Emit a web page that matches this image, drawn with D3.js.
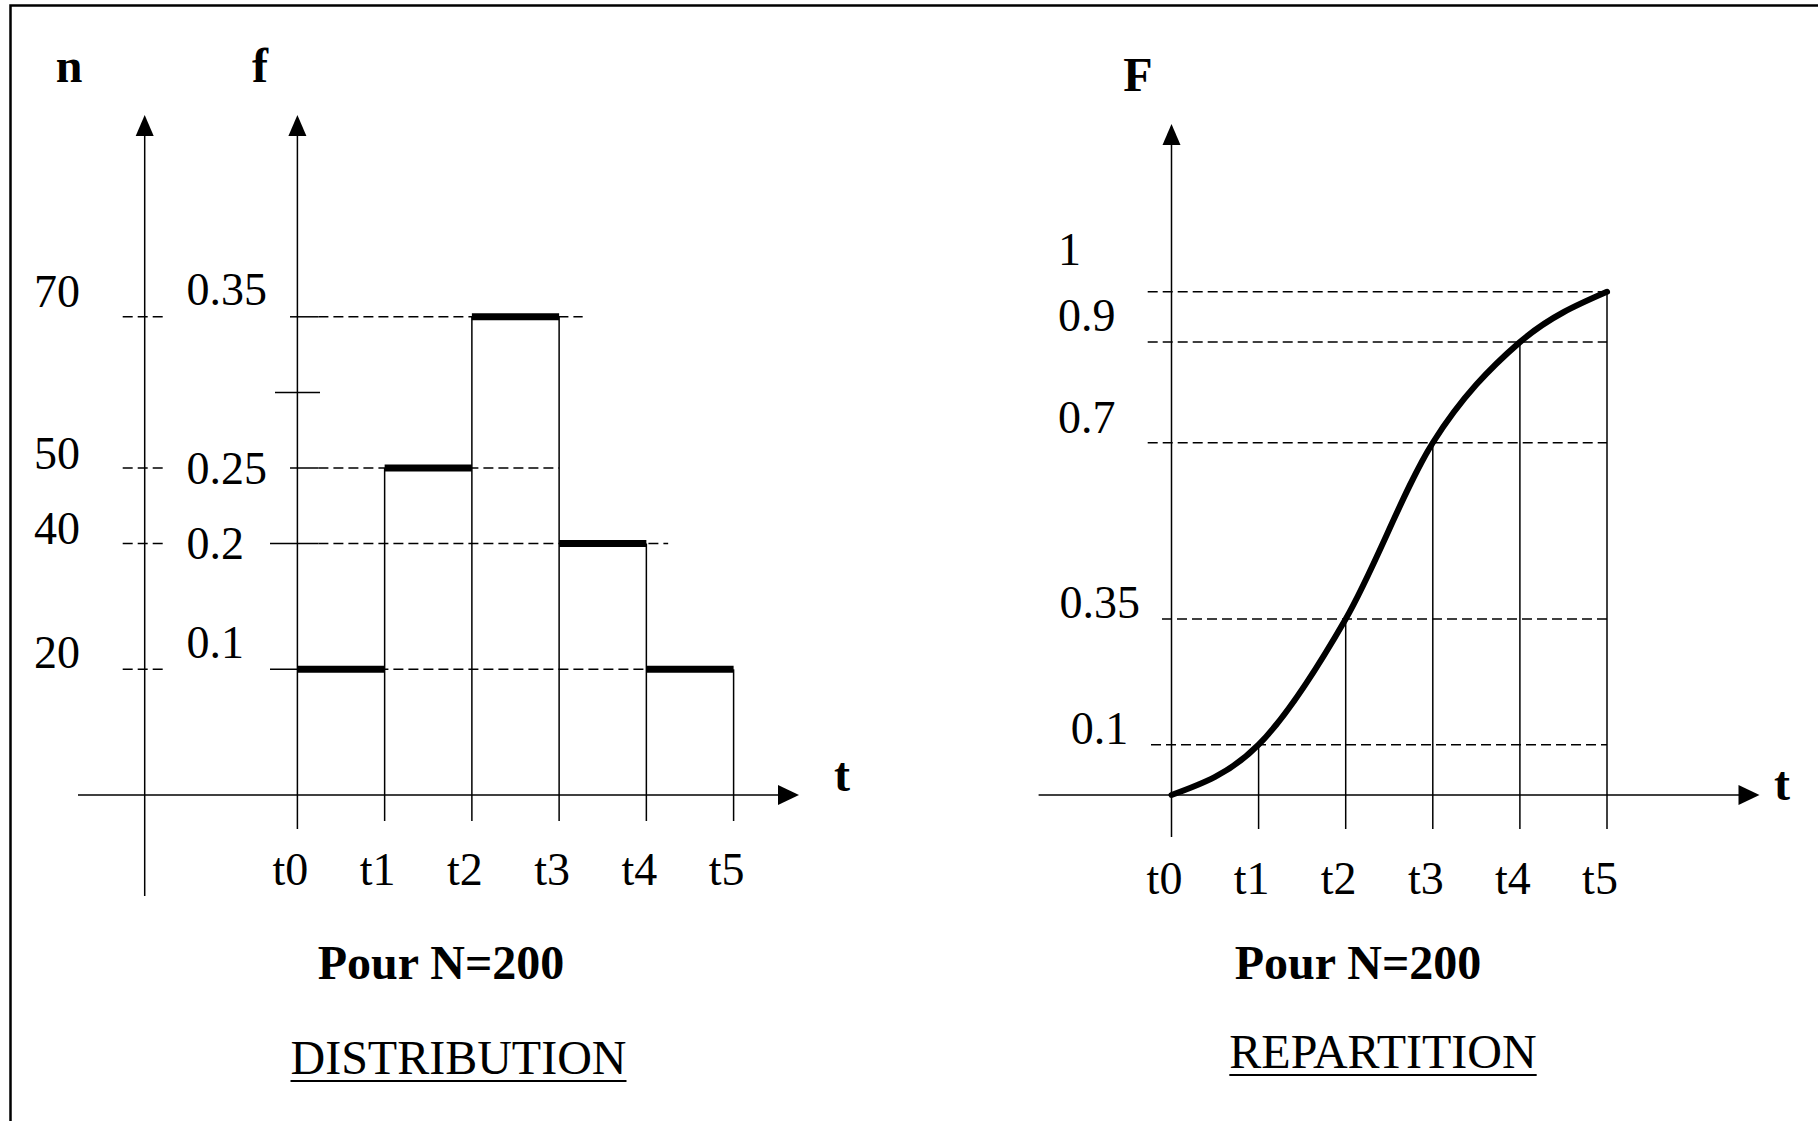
<!DOCTYPE html>
<meta charset="utf-8">

<!-- Load d3.js -->
<script src="https://d3js.org/d3.v7.min.js"></script>

<style>
  body { margin: 0; background: #fff; }
  text { font-family: "Liberation Serif", "Times New Roman", serif; fill: #000; }
</style>

<div id="my_dataviz"></div>

<script>

// ---- data ----
// class bounds on the time axis
let tLabels = ["t0", "t1", "t2", "t3", "t4", "t5"];
// distribution for N = 200 : counts n and frequencies f per class
let N = 200;
let nCounts = [20, 50, 70, 40, 20];
let fValues = [0.1, 0.25, 0.35, 0.2, 0.1];
// labelled levels on the n and f axes (+ one unlabelled tick on f)
let nTicks = [70, 50, 40, 20];
let fTicks = [0.35, 0.25, 0.2, 0.1];
let fExtraTick = 0.3;
// repartition : cumulative F at t0..t5, and its labelled levels
let FValues = [0, 0.1, 0.35, 0.7, 0.9, 1];
let FTicks = [1, 0.9, 0.7, 0.35, 0.1];

// ---- layout ----
let width = 1818, height = 1121;
let xAxisY = 795;
let dash = "10,5";

let svg = d3.select("#my_dataviz")
  .append("svg")
    .attr("width", width)
    .attr("height", height);

svg.append("rect")
    .attr("width", width).attr("height", height)
    .attr("fill", "#fff");

// frame (only top and left show in the picture)
svg.append("rect")
    .attr("x", 10.5).attr("y", 5.5)
    .attr("width", width + 50).attr("height", height + 50)
    .attr("fill", "none").attr("stroke", "#000").attr("stroke-width", 2.5);

function line(g, x1, y1, x2, y2, w, dashed) {
  return g.append("line")
    .attr("x1", x1).attr("y1", y1).attr("x2", x2).attr("y2", y2)
    .attr("stroke", "#000").attr("stroke-width", w || 1.5)
    .attr("stroke-dasharray", dashed ? dash : null);
}

function arrowUp(g, x, yBottom, yTip) {
  line(g, x, yBottom, x, yTip + 15);
  g.append("path")
    .attr("d", "M" + x + "," + yTip + "L" + (x - 9) + "," + (yTip + 21) + "L" + (x + 9) + "," + (yTip + 21) + "Z")
    .attr("fill", "#000");
}

function arrowRight(g, x0, y, xTip) {
  line(g, x0, y, xTip - 15, y);
  g.append("path")
    .attr("d", "M" + xTip + "," + y + "L" + (xTip - 21) + "," + (y - 10) + "L" + (xTip - 21) + "," + (y + 10) + "Z")
    .attr("fill", "#000");
}

function label(g, txt, x, y, opts) {
  opts = opts || {};
  return g.append("text")
    .attr("x", x).attr("y", y)
    .attr("text-anchor", opts.anchor || "start")
    .style("font-size", (opts.size || 46) + "px")
    .style("font-weight", opts.bold ? "bold" : "normal")
    .text(txt);
}

function underlinedTitle(g, txt, cx, y) {
  let t = label(g, txt, cx, y, {anchor: "middle", size: 48});
  let len = t.node().getComputedTextLength();
  line(g, cx - len / 2, y + 7, cx + len / 2, y + 7, 2.2);
}

// =========== DISTRIBUTION (left) ===========
let left = svg.append("g");

let xL = d3.scaleLinear().domain([0, tLabels.length - 1]).range([297.4, 733.6]);
// the hand-drawn f axis has a wider step above 0.2
let yL = d3.scaleLinear().domain([0, 0.2, 0.35]).range([xAxisY, 543.6, 316.8]);
let yN = v => yL(v / N);
let nAxisX = 144.7;

// axes
arrowUp(left, nAxisX, 896, 115);
arrowUp(left, xL(0), 829, 115);
arrowRight(left, 78, xAxisY, 799);

label(left, "n", 69, 82, {anchor: "middle", size: 48, bold: true});
label(left, "f", 260, 82, {anchor: "middle", size: 48, bold: true});
label(left, "t", 842, 791, {anchor: "middle", size: 48, bold: true});

// n labels + short dashes around the n axis
let nNudge = [-10, 1, 0, -1.5];
nTicks.forEach(function(v, i) {
  line(left, nAxisX - 22, yN(v), nAxisX + 22, yN(v), 1.5, true);
  label(left, v, 34, yN(v) + nNudge[i]);
});

// f labels, ticks and dashed guides
let fNudge = [-11.5, 16, 15, -11.5];
let fTickStart = [290, 290, 270, 270];
let fDashEnd = [3.27, 3, 4.25, 4];   // in class units
fTicks.forEach(function(v, i) {
  line(left, fTickStart[i], yL(v), xL(0) + 21, yL(v), 1.5);
  line(left, xL(0) + 21, yL(v), xL(fDashEnd[i]), yL(v), 1.5, true);
  label(left, v, 186.6, yL(v) + fNudge[i]);
});
line(left, 275, yL(fExtraTick), 320, yL(fExtraTick), 1.5);

// bar sides, from the higher neighbour down past the t axis
d3.range(1, tLabels.length).forEach(function(k) {
  let h = Math.max(fValues[k - 1], fValues[k] || 0);
  line(left, xL(k), yL(h), xL(k), 821, 1.5);
});

// thick bar tops
left.selectAll(".bar")
  .data(fValues)
  .enter()
  .append("line")
    .attr("class", "bar")
    .attr("x1", (d, i) => xL(i))
    .attr("x2", (d, i) => xL(i + 1))
    .attr("y1", d => yL(d))
    .attr("y2", d => yL(d))
    .attr("stroke", "#000")
    .attr("stroke-width", 7);

// t labels
left.selectAll(".tl")
  .data(tLabels)
  .enter()
  .append("text")
    .attr("class", "tl")
    .attr("x", (d, i) => xL(i) - 7)
    .attr("y", 885)
    .attr("text-anchor", "middle")
    .style("font-size", "46px")
    .text(d => d);

label(left, "Pour N=" + N, 441, 979, {anchor: "middle", size: 48, bold: true});
underlinedTitle(left, "DISTRIBUTION", 458.5, 1074);

// =========== REPARTITION (right) ===========
let right = svg.append("g");

let xR = d3.scaleLinear().domain([0, tLabels.length - 1]).range([1171.5, 1607]);
let yR = d3.scaleLinear().domain([0, 1]).range([xAxisY, 291.8]);

arrowUp(right, xR(0), 837, 124);
arrowRight(right, 1038.6, xAxisY, 1759.5);

label(right, "F", 1138, 91, {anchor: "middle", size: 48, bold: true});
label(right, "t", 1782, 800, {anchor: "middle", size: 48, bold: true});

// dashed levels and their labels
let FNudge = [-26.8, -10.8, -10, -1.2, -0.7];
let FLabelX = [1058, 1058, 1058, 1059.6, 1070.7];
let FDashStart = [1147.7, 1147.7, 1147.7, 1162, 1151];
FTicks.forEach(function(v, i) {
  line(right, FDashStart[i], yR(v), xR(tLabels.length - 1), yR(v), 1.5, true);
  label(right, v, FLabelX[i], yR(v) + FNudge[i]);
});
// label "1" sits above the top line, "0.9" names the t4 level
// verticals from the curve down past the t axis
FValues.forEach(function(v, i) {
  if (i > 0) line(right, xR(i), yR(v), xR(i), 829, 1.5);
});

// cumulative curve
right.append("path")
  .datum(FValues)
  .attr("fill", "none")
  .attr("stroke", "#000")
  .attr("stroke-width", 6)
  .attr("stroke-linecap", "round")
  .attr("d", d3.line()
    .x((d, i) => xR(i))
    .y(d => yR(d))
    .curve(d3.curveMonotoneX));

right.selectAll(".tl")
  .data(tLabels)
  .enter()
  .append("text")
    .attr("class", "tl")
    .attr("x", (d, i) => xR(i) - 7)
    .attr("y", 894)
    .attr("text-anchor", "middle")
    .style("font-size", "46px")
    .text(d => d);

label(right, "Pour N=" + N, 1358, 979, {anchor: "middle", size: 48, bold: true});
underlinedTitle(right, "REPARTITION", 1383, 1068);

</script>
